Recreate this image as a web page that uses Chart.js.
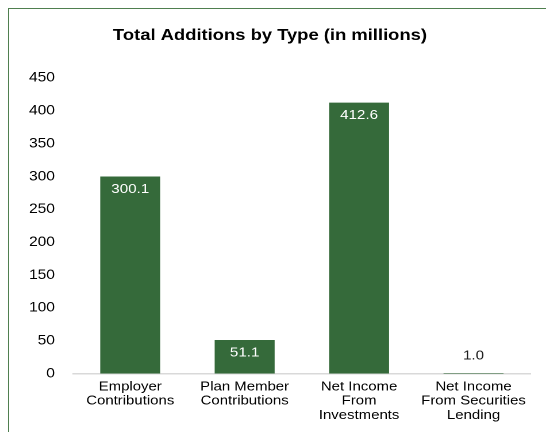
<!DOCTYPE html>
<html>
<head>
<meta charset="utf-8">
<script src="https://cdn.jsdelivr.net/npm/chart.js@4/dist/chart.umd.min.js"></script>
<style>
  html, body { margin: 0; padding: 0; background: #ffffff; }
  #wrap { position: relative; width: 546px; height: 432px; overflow: hidden; }
  #frame { position: absolute; left: 8px; top: 8px; width: 560px; height: 460px;
           border-top: 1.5px solid #4f7f4f; border-left: 1.5px solid #4f7f4f; box-sizing: border-box; }
  /* the chart is laid out on a narrower canvas and widened to full width */
  #stage { position: absolute; left: 0; top: 0; width: 475px; height: 432px;
           transform: scaleX(1.1495); transform-origin: 0 0; }
  #c { display: block; }
</style>
</head>
<body>
<div id="wrap">
  <div id="frame"></div>
  <div id="stage"><canvas id="c" width="475" height="432"></canvas></div>
</div>
<script>
const categories = [
  ["Employer", "Contributions"],
  ["Plan Member", "Contributions"],
  ["Net Income", "From", "Investments"],
  ["Net Income", "From Securities", "Lending"]
];
const additions = [300.1, 51.1, 412.6, 1.0];
const yTicks = [0, 50, 100, 150, 200, 250, 300, 350, 400, 450];

const FONT = "'Liberation Sans', Arial, sans-serif";
const BAR = "#356a3a";

// Value labels: white inside the bar top, dark above very short bars
const valueLabels = {
  id: "valueLabels",
  afterDatasetsDraw(chart) {
    const ctx = chart.ctx;
    const meta = chart.getDatasetMeta(0);
    ctx.save();
    ctx.font = "13.2px " + FONT;
    ctx.textAlign = "center";
    ctx.textBaseline = "middle";
    meta.data.forEach((bar, i) => {
      const v = additions[i];
      const h = bar.base - bar.y;
      const txt = v.toFixed(1);
      if (h > 24) {
        ctx.fillStyle = "#ffffff";
        ctx.fillText(txt, bar.x, bar.y + 13);
      } else {
        ctx.fillStyle = "#1a1a1a";
        ctx.fillText(txt, bar.x, bar.y - 17);
      }
    });
    ctx.restore();
  }
};

new Chart(document.getElementById("c"), {
  type: "bar",
  data: {
    labels: categories,
    datasets: [{
      data: additions,
      backgroundColor: BAR,
      borderWidth: 0,
      barPercentage: 0.524,
      categoryPercentage: 1.0
    }]
  },
  options: {
    responsive: false,
    animation: false,
    devicePixelRatio: 2,
    layout: { padding: { left: 8, right: 13.3, top: 20, bottom: 3.5 } },
    plugins: {
      legend: { display: false },
      tooltip: { enabled: false },
      title: {
        display: true,
        text: "Total Additions by Type (in millions)",
        color: "#000000",
        font: { family: FONT, size: 16, weight: "bold" },
        padding: { top: 6, bottom: 32.8 }
      }
    },
    scales: {
      x: {
        grid: { display: false, drawTicks: false },
        border: { display: true, color: "#d9d9d9", width: 1.5 },
        ticks: {
          color: "#000000",
          font: { family: FONT, size: 13, lineHeight: 1.1 },
          padding: 6,
          maxRotation: 0,
          autoSkip: false
        }
      },
      y: {
        min: 0,
        max: 450,
        afterBuildTicks(scale) { scale.ticks = yTicks.map(v => ({ value: v })); },
        afterFit(scale) { scale.width = 55.5; },
        grid: { display: false, drawTicks: false },
        border: { display: false },
        ticks: {
          color: "#000000",
          font: { family: FONT, size: 13.5 },
          padding: 15.7
        }
      }
    }
  },
  plugins: [valueLabels]
});
</script>
</body>
</html>
